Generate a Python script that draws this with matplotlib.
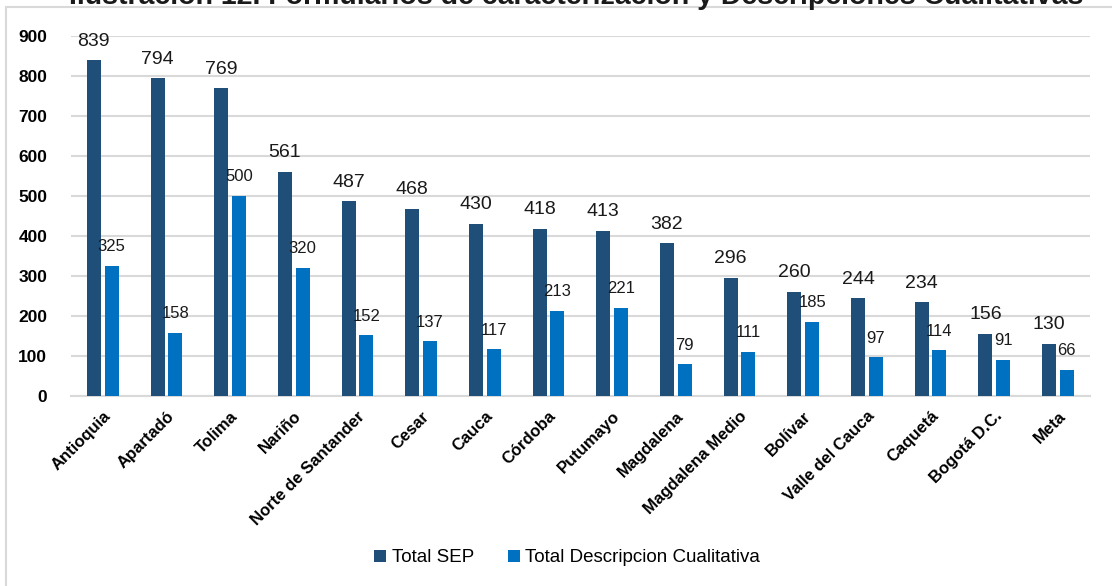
import numpy as np
import matplotlib
matplotlib.use("Agg")
import matplotlib.pyplot as plt
from matplotlib.patches import Rectangle

plt.rcParams['font.family'] = ['Liberation Sans', 'DejaVu Sans']

regiones = ['Antioquia', 'Apartadó', 'Tolima', 'Nariño', 'Norte de Santander',
            'Cesar', 'Cauca', 'Córdoba', 'Putumayo', 'Magdalena',
            'Magdalena Medio', 'Bolívar', 'Valle del Cauca', 'Caquetá',
            'Bogotá D.C.', 'Meta']
total_sep = [839, 794, 769, 561, 487, 468, 430, 418, 413, 382, 296, 260, 244, 234, 156, 130]
total_desc = [325, 158, 500, 320, 152, 137, 117, 213, 221, 79, 111, 185, 97, 114, 91, 66]

c_sep = '#1F4E79'
c_desc = '#0070C0'

fig = plt.figure(figsize=(11.12, 5.86), dpi=100)
ax = fig.add_axes([0.0638, 0.3242, 0.9162, 0.6144])

x = np.arange(len(regiones))
w = 0.22
off = 0.14
b1 = ax.bar(x - off, total_sep, w, color=c_sep, label='Total SEP', zorder=3)
b2 = ax.bar(x + off, total_desc, w, color=c_desc, label='Total Descripcion Cualitativa', zorder=3)

for xi, v in zip(x, total_sep):
    ax.annotate(str(v), (xi - off, v), xytext=(0, 10.5), textcoords='offset points',
                ha='center', va='baseline', fontsize=14, color='#1a1a1a')
for xi, v in zip(x, total_desc):
    ax.annotate(str(v), (xi + off, v), xytext=(0, 10.5), textcoords='offset points',
                ha='center', va='baseline', fontsize=12, color='#1a1a1a')

ax.set_xlim(-0.5, len(regiones) - 0.5)
ax.set_ylim(0, 900)
ax.set_yticks(range(0, 901, 100))
ax.tick_params(axis='y', length=0, labelsize=12.5, pad=17)
ax.tick_params(axis='x', length=0, pad=9)
for lbl in ax.get_yticklabels():
    lbl.set_fontweight('bold')
ax.set_xticks(x)
ax.set_xticklabels(regiones, rotation=45, ha='right', rotation_mode='anchor',
                   fontsize=12, fontweight='bold')
ax.yaxis.grid(True, color='#D9D9D9', linewidth=1.5, zorder=0)
ax.set_axisbelow(True)
for s in ['top', 'right', 'left']:
    ax.spines[s].set_visible(False)
ax.spines['bottom'].set_color('#D9D9D9')
ax.spines['bottom'].set_linewidth(1.5)

fig.legend(handles=[b1, b2], loc='center', bbox_to_anchor=(0.51, 0.048), ncol=2,
           frameon=False, fontsize=13.5, handlelength=0.65, handleheight=0.65,
           handletextpad=0.3, columnspacing=1.8)

# recuadro del grafico
fig.add_artist(Rectangle((6 / 1112, -0.05), 1.2, 1.05 - 7.5 / 586, transform=fig.transFigure,
                         fill=False, edgecolor='#D9D9D9', linewidth=1.5))

fig.text(1083 / 1112, 1 - 4.5 / 586, 'Ilustración 12. Formularios de caracterización y Descripciones Cualitativas',
         ha='right', va='baseline', fontsize=20.5, fontweight='bold', color='#1a1a1a')

fig.savefig('out.png', dpi=100)
